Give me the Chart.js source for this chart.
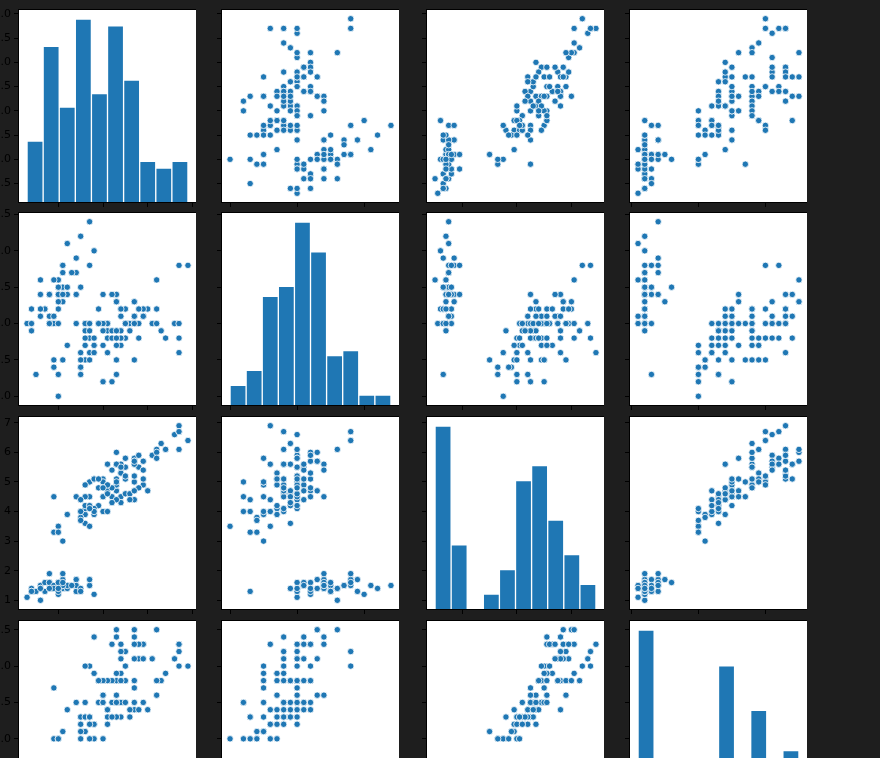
<!DOCTYPE html>
<html>
<head>
<meta charset="utf-8">
<title>Iris pair plot</title>
<script src="https://cdn.jsdelivr.net/npm/chart.js@4.4.1/dist/chart.umd.min.js"></script>
<style>
html, body { margin: 0; padding: 0; background: #1e1e1e; }
#fig { position: relative; width: 880px; height: 758px; overflow: hidden; background: #1e1e1e; }
#fig canvas { position: absolute; }
</style>
</head>
<body>
<div id="fig"></div>
<script>
// iris measurements, one array per variable (150 flowers, same order)
var sepalLength = [5.1,4.9,4.7,4.6,5.0,5.4,4.6,5.0,4.4,4.9,5.4,4.8,4.8,4.3,5.8,5.7,5.4,5.1,5.7,5.1,5.4,5.1,4.6,5.1,4.8,5.0,5.0,5.2,5.2,4.7,4.8,5.4,5.2,5.5,4.9,5.0,5.5,4.9,4.4,5.1,5.0,4.5,4.4,5.0,5.1,4.8,5.1,4.6,5.3,5.0,
  7.0,6.4,6.9,5.5,6.5,5.7,6.3,4.9,6.6,5.2,5.0,5.9,6.0,6.1,5.6,6.7,5.6,5.8,6.2,5.6,5.9,6.1,6.3,6.1,6.4,6.6,6.8,6.7,6.0,5.7,5.5,5.5,5.8,6.0,5.4,6.0,6.7,6.3,5.6,5.5,5.5,6.1,5.8,5.0,5.6,5.7,5.7,6.2,5.1,5.7,
  6.3,5.8,7.1,6.3,6.5,7.6,4.9,7.3,6.7,7.2,6.5,6.4,6.8,5.7,5.8,6.4,6.5,7.7,7.7,6.0,6.9,5.6,7.7,6.3,6.7,7.2,6.2,6.1,6.4,7.2,7.4,7.9,6.4,6.3,6.1,7.7,6.3,6.4,6.0,6.9,6.7,6.9,5.8,6.8,6.7,6.7,6.3,6.5,6.2,5.9];
var sepalWidth = [3.5,3.0,3.2,3.1,3.6,3.9,3.4,3.4,2.9,3.1,3.7,3.4,3.0,3.0,4.0,4.4,3.9,3.5,3.8,3.8,3.4,3.7,3.6,3.3,3.4,3.0,3.4,3.5,3.4,3.2,3.1,3.4,4.1,4.2,3.1,3.2,3.5,3.6,3.0,3.4,3.5,2.3,3.2,3.5,3.8,3.0,3.8,3.2,3.7,3.3,
  3.2,3.2,3.1,2.3,2.8,2.8,3.3,2.4,2.9,2.7,2.0,3.0,2.2,2.9,2.9,3.1,3.0,2.7,2.2,2.5,3.2,2.8,2.5,2.8,2.9,3.0,2.8,3.0,2.9,2.6,2.4,2.4,2.7,2.7,3.0,3.4,3.1,2.3,3.0,2.5,2.6,3.0,2.6,2.3,2.7,3.0,2.9,2.9,2.5,2.8,
  3.3,2.7,3.0,2.9,3.0,3.0,2.5,2.9,2.5,3.6,3.2,2.7,3.0,2.5,2.8,3.2,3.0,3.8,2.6,2.2,3.2,2.8,2.8,2.7,3.3,3.2,2.8,3.0,2.8,3.0,2.8,3.8,2.8,2.8,2.6,3.0,3.4,3.1,3.0,3.1,3.1,3.1,2.7,3.2,3.3,3.0,2.5,3.0,3.4,3.0];
var petalLength = [1.4,1.4,1.3,1.5,1.4,1.7,1.4,1.5,1.4,1.5,1.5,1.6,1.4,1.1,1.2,1.5,1.3,1.4,1.7,1.5,1.7,1.5,1.0,1.7,1.9,1.6,1.6,1.5,1.4,1.6,1.6,1.5,1.5,1.4,1.5,1.2,1.3,1.4,1.3,1.5,1.3,1.3,1.3,1.6,1.9,1.4,1.6,1.4,1.5,1.4,
  4.7,4.5,4.9,4.0,4.6,4.5,4.7,3.3,4.6,3.9,3.5,4.2,4.0,4.7,3.6,4.4,4.5,4.1,4.5,3.9,4.8,4.0,4.9,4.7,4.3,4.4,4.8,5.0,4.5,3.5,3.8,3.7,3.9,5.1,4.5,4.5,4.7,4.4,4.1,4.0,4.4,4.6,4.0,3.3,4.2,4.2,4.2,4.3,3.0,4.1,
  6.0,5.1,5.9,5.6,5.8,6.6,4.5,6.3,5.8,6.1,5.1,5.3,5.5,5.0,5.1,5.3,5.5,6.7,6.9,5.0,5.7,4.9,6.7,4.9,5.7,6.0,4.8,4.9,5.6,5.8,6.1,6.4,5.6,5.1,5.6,6.1,5.6,5.5,4.8,5.4,5.6,5.1,5.1,5.9,5.7,5.2,5.0,5.2,5.4,5.1];
var petalWidth = [0.2,0.2,0.2,0.2,0.2,0.4,0.3,0.2,0.2,0.1,0.2,0.2,0.1,0.1,0.2,0.4,0.4,0.3,0.3,0.3,0.2,0.4,0.2,0.5,0.2,0.2,0.4,0.2,0.2,0.2,0.2,0.4,0.1,0.2,0.2,0.2,0.2,0.1,0.2,0.2,0.3,0.3,0.2,0.6,0.4,0.3,0.2,0.2,0.2,0.2,
  1.4,1.5,1.5,1.3,1.5,1.3,1.6,1.0,1.3,1.4,1.0,1.5,1.0,1.4,1.3,1.4,1.5,1.0,1.5,1.1,1.8,1.3,1.5,1.2,1.3,1.4,1.4,1.7,1.5,1.0,1.1,1.0,1.2,1.6,1.5,1.6,1.5,1.3,1.3,1.3,1.2,1.4,1.2,1.0,1.3,1.2,1.3,1.3,1.1,1.3,
  2.5,1.9,2.1,1.8,2.2,2.1,1.7,1.8,1.8,2.5,2.0,1.9,2.1,2.0,2.4,2.3,1.8,2.2,2.3,1.5,2.3,2.0,2.0,1.8,2.1,1.8,1.8,1.8,2.1,1.6,1.9,2.0,2.2,1.5,1.4,2.3,2.4,1.8,1.8,2.1,2.4,2.3,1.9,2.3,2.5,2.3,1.9,2.0,2.3,1.8];

// histogram counts on the diagonal (10 equal bins from min to max)
var histSepalLength = [9, 23, 14, 27, 16, 26, 18, 6, 5, 6];
var histSepalWidth  = [4, 7, 22, 24, 37, 31, 10, 11, 2, 2];
var histPetalLength = [37, 13, 0, 3, 8, 26, 29, 18, 11, 5];
var histPetalWidth  = [41, 8, 1, 7, 8, 33, 6, 23, 9, 14];

// tick values
var yTicksSepalLength = [4.5, 5.0, 5.5, 6.0, 6.5, 7.0, 7.5, 8.0];
var yTicksSepalWidth  = [2.0, 2.5, 3.0, 3.5, 4.0, 4.5];
var yTicksPetalLength = [1, 2, 3, 4, 5, 6, 7];
var yTicksPetalWidth  = [0.0, 0.5, 1.0, 1.5, 2.0, 2.5];
var xTicksSepalLength = [5, 6, 7, 8];
var xTicksSepalWidth  = [2, 3, 4];
var xTicksPetalLength = [2, 4, 6];
var xTicksPetalWidth  = [0, 1, 2];

var columns = [sepalLength, sepalWidth, petalLength, petalWidth];
var hists = [histSepalLength, histSepalWidth, histPetalLength, histPetalWidth];
var yTicks = [yTicksSepalLength, yTicksSepalWidth, yTicksPetalLength, yTicksPetalWidth];
var xTicks = [xTicksSepalLength, xTicksSepalWidth, xTicksPetalLength, xTicksPetalWidth];
var tickDecimals = [1, 1, 0, 1];

// layout of the grid
var panelLeft = [19, 222, 427, 630];
var panelTop = [10, 213, 417, 621];
var panelW = 177, panelH = 192;
var padL = 30, padB = 6, padT = 8;
var blue = '#1f77b4';

function limits(arr) {
    var lo = Math.min.apply(null, arr), hi = Math.max.apply(null, arr);
    var m = (hi - lo) * 0.05;
    return [lo - m, hi + m];
}

var panelFrame = {
    id: 'panelFrame',
    beforeDraw: function (chart) {
        var a = chart.chartArea, ctx = chart.ctx;
        ctx.save();
        ctx.fillStyle = '#ffffff';
        ctx.fillRect(a.left, a.top, a.right - a.left, a.bottom - a.top);
        ctx.restore();
    },
    afterDraw: function (chart) {
        var a = chart.chartArea, ctx = chart.ctx;
        ctx.save();
        ctx.strokeStyle = '#000';
        ctx.lineWidth = 1;
        ctx.strokeRect(a.left - 0.5, a.top - 0.5, a.right - a.left + 1, a.bottom - a.top + 1);
        ctx.restore();
    }
};

var fig = document.getElementById('fig');

function makeChart(r, c) {
    var cv = document.createElement('canvas');
    cv.width = panelW + padL;
    cv.height = panelH + padB + padT;
    cv.style.left = (panelLeft[c] - padL) + 'px';
    cv.style.top = (panelTop[r] - padT) + 'px';
    fig.appendChild(cv);

    var xl = limits(columns[c]);
    var yl = limits(columns[r]);
    var tickGrid = { display: true, drawOnChartArea: false, drawTicks: true, tickLength: 5, color: '#000', lineWidth: 1, offset: false };

    var scales = {
        x: {
            type: 'linear', position: 'bottom', min: xl[0], max: xl[1], offset: false,
            grid: tickGrid, border: { display: false },
            ticks: { display: false },
            afterBuildTicks: function (s) { s.ticks = xTicks[c].map(function (v) { return { value: v }; }); },
            afterFit: function (s) { s.height = padB; s.paddingLeft = 0; s.paddingRight = 0; }
        },
        y: {
            type: 'linear', position: 'left', min: yl[0], max: yl[1], display: true,
            grid: tickGrid, border: { display: false },
            ticks: {
                display: c === 0, color: '#000', padding: 3,
                font: { family: 'DejaVu Sans', size: 11 },
                callback: function (v) { return v.toFixed(tickDecimals[r]); }
            },
            afterBuildTicks: function (s) { s.ticks = yTicks[r].map(function (v) { return { value: v }; }); },
            afterFit: function (s) { s.width = padL; s.paddingTop = 0; s.paddingBottom = 0; }
        }
    };

    var datasets;
    var type;
    if (r === c) {
        type = 'bar';
        var counts = hists[c];
        var lo = Math.min.apply(null, columns[c]), hi = Math.max.apply(null, columns[c]);
        var w = (hi - lo) / counts.length;
        var maxCount = Math.max.apply(null, counts);
        scales.yh = { type: 'linear', display: false, min: 0, max: maxCount * 1.05 };
        datasets = [{
            data: counts.map(function (n, i) { return { x: lo + (i + 0.5) * w, y: n || null }; }),
            yAxisID: 'yh',
            backgroundColor: blue,
            borderColor: 'rgba(255,255,255,0.75)',
            borderWidth: 1,
            borderSkipped: 'start',
            barPercentage: 1,
            categoryPercentage: 1
        }];
    } else {
        type = 'scatter';
        datasets = [{
            data: columns[c].map(function (v, i) { return { x: v, y: columns[r][i] }; }),
            backgroundColor: blue,
            borderColor: '#ffffff',
            borderWidth: 0.8,
            pointRadius: 3.2
        }];
    }

    return new Chart(cv, {
        type: type,
        data: { datasets: datasets },
        options: {
            responsive: false,
            animation: false,
            events: [],
            devicePixelRatio: 1,
            layout: { padding: { top: padT, left: 0, right: 0, bottom: 0 }, autoPadding: false },
            scales: scales,
            plugins: { legend: { display: false }, tooltip: { enabled: false } }
        },
        plugins: [panelFrame]
    });
}

for (var r = 0; r < 4; r++) {
    for (var c = 0; c < 4; c++) {
        makeChart(r, c);
    }
}
</script>
</body>
</html>
